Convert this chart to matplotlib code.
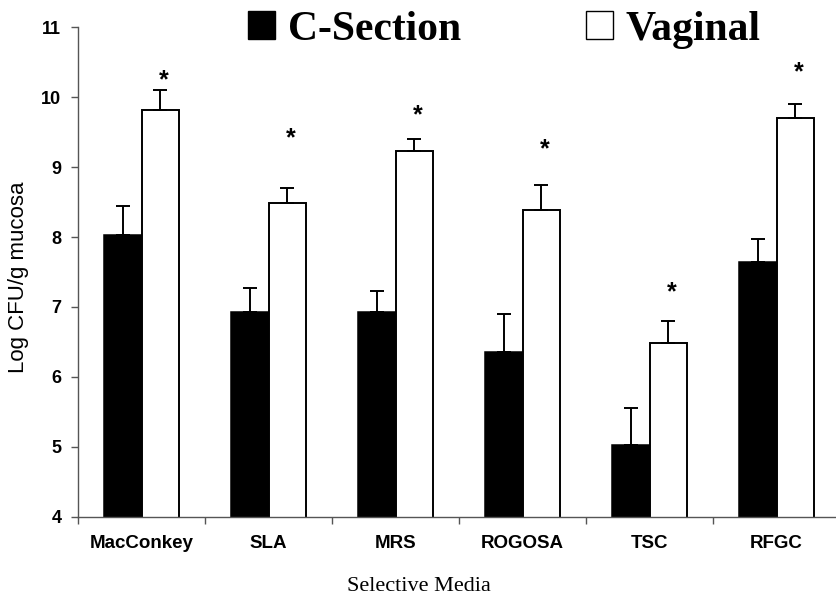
import matplotlib
matplotlib.use("Agg")
import matplotlib.pyplot as plt
from matplotlib.patches import Patch
from matplotlib.ticker import FixedLocator

media = ["MacConkey", "SLA", "MRS", "ROGOSA", "TSC", "RFGC"]
csection = [8.03, 6.93, 6.93, 6.36, 5.03, 7.65]
csection_err = [0.42, 0.34, 0.30, 0.54, 0.52, 0.32]
vaginal = [9.82, 8.48, 9.23, 8.38, 6.48, 9.70]
vaginal_err = [0.28, 0.22, 0.17, 0.37, 0.32, 0.20]
star_y = [10.35, 9.52, 9.85, 9.36, 7.32, 10.47]
y_ticks = [4, 5, 6, 7, 8, 9, 10, 11]

sans = "Liberation Sans"
serif = "Liberation Serif"

fig = plt.figure(figsize=(8.37, 5.98), dpi=100)
ax = fig.add_axes([0.0932, 0.1355, 0.9104, 0.8193])

x = list(range(len(media)))
w = 0.295
xb = [i - w / 2 for i in x]
xw = [i + w / 2 for i in x]

ax.bar(xb, csection, width=w, color="black", edgecolor="black",
       linewidth=1.1, zorder=2)
ax.bar(xw, vaginal, width=w, color="white", edgecolor="black",
       linewidth=1.4, zorder=2)
ax.errorbar(xb, csection, yerr=[[0] * len(x), csection_err], fmt="none",
            ecolor="black", elinewidth=1.4, capsize=5, capthick=1.4, zorder=3)
ax.errorbar(xw, vaginal, yerr=[[0] * len(x), vaginal_err], fmt="none",
            ecolor="black", elinewidth=1.4, capsize=5, capthick=1.4, zorder=3)

for xi, yi in zip(xw, star_y):
    ax.text(xi + 0.03, yi - 0.21, "*", ha="center", va="baseline",
            fontsize=18, fontweight="bold", family=sans)

ax.set_xlim(-0.5, 5.5)
ax.set_ylim(4, 11)
ax.set_yticks(y_ticks)
ax.set_yticklabels([str(t) for t in y_ticks], fontsize=13, fontweight="bold",
                   family=sans)
ax.set_xticks(x)
ax.set_xticklabels(media, fontsize=13.5, fontweight="bold", family=sans)
ax.xaxis.set_minor_locator(FixedLocator([i - 0.5 for i in range(len(media) + 1)]))
ax.tick_params(axis="x", which="major", length=0, pad=13)
ax.tick_params(axis="x", which="minor", length=5, width=1, color="#555555",
               direction="out")
ax.tick_params(axis="y", length=5, width=1, color="#555555", pad=7)

for s in ["top", "right"]:
    ax.spines[s].set_visible(False)
for s in ["left", "bottom"]:
    ax.spines[s].set_color("#555555")
    ax.spines[s].set_linewidth(1)

fig.text(0.022, 0.536, "Log CFU/g mucosa", rotation=90, ha="center",
         va="center", fontsize=16, family=sans)
fig.text(0.5, 0.012, "Selective Media", ha="center", va="baseline",
         fontsize=16, family=serif)

handles = [Patch(facecolor="black", edgecolor="black"),
           Patch(facecolor="white", edgecolor="black", linewidth=1)]
fig.legend(handles, ["C-Section", "Vaginal"], ncol=2, frameon=False,
           loc="upper left", bbox_to_anchor=(248 / 837, 0.982),
           prop={"family": serif, "weight": "bold", "size": 30},
           handlelength=0.65, handleheight=0.65, handletextpad=0.3,
           columnspacing=3.0, borderpad=0, borderaxespad=0)

fig.savefig("out.png", dpi=100)
